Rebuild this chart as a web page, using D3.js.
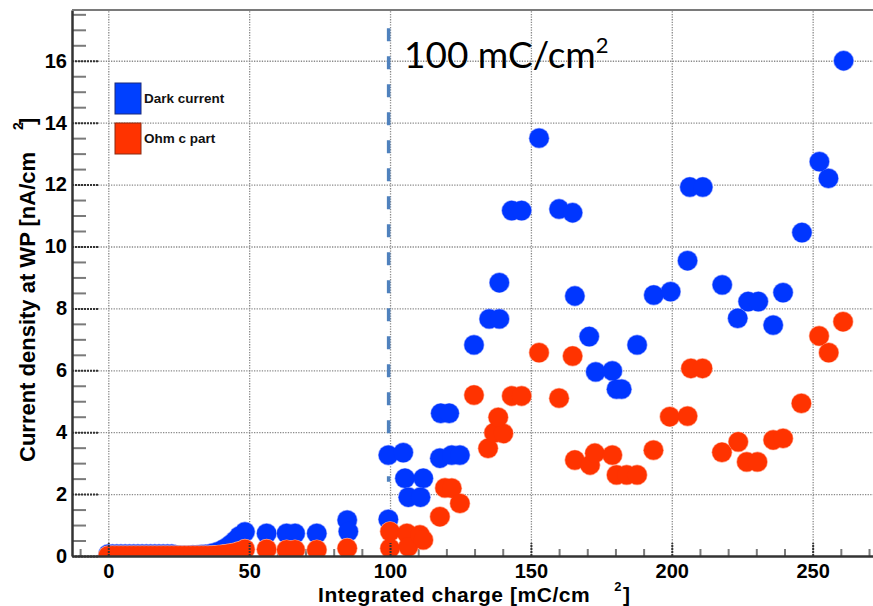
<!DOCTYPE html>
<html>
<head>
<meta charset="utf-8">
<script src="https://cdn.jsdelivr.net/npm/d3@7"></script>
<style>
  body { margin: 0; background: #fff; }
  svg { display: block; font-family: "Liberation Sans", Arial, sans-serif; }
</style>
</head>
<body>
<div class="chart"></div>
<script>
"use strict";

// dark current points (integrated charge, current density)
var darkX = [0, 1.5, 3, 4.5, 6, 7.5, 9, 10.5, 12, 13.5, 15, 16.5, 18, 19.5, 21, 22.5, 24, 25.5, 27, 28.5, 30, 31.5, 33, 34.5, 36,
             37.5, 39, 40.5, 42, 43.5, 45, 46.5, 48.5,
             56.2, 63.3, 66.3, 74, 84.8, 85.2,
             99.4, 99.4, 104.7, 105.3, 106.5, 110.8, 111.8, 117.7, 118, 121, 121.9, 124.8,
             129.8, 135.2, 138.8, 138.8, 143.2, 146.7, 152.9, 160, 164.8, 165.6, 170.7, 173, 178.9,
             180.4, 182.2, 187.7, 193.6, 199.6, 205.6, 206.4, 211, 217.9, 223.4, 227.1, 230.7,
             236, 239.5, 246.2, 252.4, 255.6, 261];
var darkY = [0.06, 0.06, 0.06, 0.06, 0.06, 0.06, 0.06, 0.06, 0.06, 0.06, 0.06, 0.06, 0.06, 0.06, 0.06, 0.06, 0.03, 0.02, 0.02, 0.02, 0.03, 0.03, 0.04, 0.05, 0.07,
             0.1, 0.14, 0.2, 0.28, 0.38, 0.5, 0.64, 0.78,
             0.73, 0.73, 0.73, 0.73, 1.16, 0.79,
             3.26, 1.18, 3.34, 2.51, 1.9, 1.9, 2.51, 3.16, 4.61, 4.61, 3.26, 3.26,
             6.82, 7.66, 7.66, 8.83, 11.16, 11.16, 13.5, 11.21, 11.09, 8.4, 7.09, 5.95, 5.98,
             5.39, 5.39, 6.82, 8.43, 8.54, 9.54, 11.92, 11.92, 8.76, 7.68, 8.22, 8.22,
             7.46, 8.51, 10.45, 12.74, 12.2, 16];

// ohmic part points
var ohmX = [0, 1.5, 3, 4.5, 6, 7.5, 9, 10.5, 12, 13.5, 15, 16.5, 18, 19.5, 21, 22.5, 24, 25.5, 27, 28.5, 30, 31.5, 33, 34.5, 36,
            37.5, 39, 40.5, 42, 43.5, 45, 46.5, 48.5,
            56.2, 63.3, 66.3, 74, 84.8,
            100, 100, 106, 106.5, 110.6, 111.8, 117.7, 119.5, 121.9, 124.8,
            129.8, 134.8, 136.9, 140.2, 138.4, 143.2, 146.7, 152.9, 160, 164.8, 165.6, 171, 172.7,
            178.9, 180.4, 184, 187.7, 193.5, 199.3, 205.6, 206.8, 210.9, 217.8, 223.6, 226.6,
            230.4, 236, 239.5, 246, 252.3, 255.7, 260.8];
var ohmY = [0.01, 0.01, 0.01, 0.01, 0.01, 0.01, 0.01, 0.01, 0.01, 0.01, 0.01, 0.01, 0.01, 0.01, 0.01, 0.01, 0.01, 0.01, 0.01, 0.01, 0.01, 0.01, 0.01, 0.01, 0.01,
            0.02, 0.03, 0.04, 0.06, 0.08, 0.11, 0.15, 0.22,
            0.22, 0.2, 0.2, 0.2, 0.25,
            0.79, 0.25, 0.73, 0.3, 0.68, 0.52, 1.27, 2.2, 2.19, 1.7,
            5.2, 3.48, 3.98, 3.96, 4.48, 5.17, 5.17, 6.57, 5.1, 6.46, 3.1, 2.94, 3.32,
            3.26, 2.62, 2.62, 2.62, 3.42, 4.5, 4.52, 6.06, 6.06, 3.35, 3.69, 3.04,
            3.04, 3.75, 3.8, 4.93, 7.11, 6.57, 7.57];

var xMajor = [0, 50, 100, 150, 200, 250];
var yMajor = [0, 2, 4, 6, 8, 10, 12, 14, 16];
var legendLabels = ["Dark current", "Ohm c part"];
var markerCharge = 99.5;      // dashed line position
var markerSpan = [2.4, 17.05];

var width = 873, height = 606;

var svg = d3.select(".chart").append("svg")
    .attr("width", width)
    .attr("height", height);

var x = d3.scaleLinear().domain([-12.88, 273.9]).range([72, 880]);
var y = d3.scaleLinear().domain([0, 17.64]).range([556, 10]);

var xMinor = d3.range(-10, 271, 10).filter(function(d){ return d % 50 !== 0; });
var yMinor = d3.range(0.5, 17.6, 0.5).filter(function(d){ return d % 2 !== 0; });

svg.append("defs").append("clipPath").attr("id", "plot")
  .append("rect")
    .attr("x", x.range()[0]).attr("y", y.range()[1])
    .attr("width", x.range()[1] - x.range()[0])
    .attr("height", y.range()[0] - y.range()[1]);

// grid
svg.append("g")
    .attr("transform", "translate(0," + y(0) + ")")
    .call(d3.axisBottom(x).tickValues(xMajor).tickSize(-(y.range()[0] - y.range()[1])).tickFormat(""))
    .call(function(g){ g.select(".domain").remove(); })
    .selectAll("line")
      .attr("stroke", "#8a8a8a")
      .attr("stroke-width", 1.3)
      .attr("stroke-dasharray", "1.3,1.3");

svg.append("g")
    .attr("transform", "translate(" + x.range()[0] + ",0)")
    .call(d3.axisLeft(y).tickValues(yMajor.slice(1)).tickSize(-(x.range()[1] - x.range()[0])).tickFormat(""))
    .call(function(g){ g.select(".domain").remove(); })
    .selectAll("line")
      .attr("stroke", "#8a8a8a")
      .attr("stroke-width", 1.3)
      .attr("stroke-dasharray", "1.3,1.3");

// minor ticks
svg.append("g")
    .attr("transform", "translate(0," + y(0) + ")")
    .call(d3.axisBottom(x).tickValues(xMinor).tickSize(-7).tickFormat(""))
    .call(function(g){ g.select(".domain").remove(); })
    .selectAll("line").attr("stroke", "#7a7a7a").attr("stroke-width", 2);

svg.append("g")
    .attr("transform", "translate(" + x.range()[0] + ",0)")
    .call(d3.axisLeft(y).tickValues(yMinor).tickSize(-14).tickFormat(""))
    .call(function(g){ g.select(".domain").remove(); })
    .selectAll("line").attr("stroke", "#7a7a7a").attr("stroke-width", 2);

// dashed 100 mC/cm2 line
svg.append("line")
    .attr("x1", x(markerCharge)).attr("x2", x(markerCharge))
    .attr("y1", y(markerSpan[1])).attr("y2", y(markerSpan[0]))
    .attr("stroke", "#4f81bd")
    .attr("stroke-width", 3.5)
    .attr("stroke-dasharray", "13,15");

// points: soft halo under each series, then the fill
var pts = svg.append("g").attr("clip-path", "url(#plot)");

function drawSeries(xs, ys, fill, halo) {
  var g = pts.append("g");
  g.append("g").selectAll("circle")
      .data(xs).enter().append("circle")
        .attr("cx", function(d){ return x(d); })
        .attr("cy", function(d, i){ return y(ys[i]); })
        .attr("r", 10.4)
        .attr("fill", halo);
  g.append("g").selectAll("circle")
      .data(xs).enter().append("circle")
        .attr("cx", function(d){ return x(d); })
        .attr("cy", function(d, i){ return y(ys[i]); })
        .attr("r", 9.7)
        .attr("fill", fill);
}
drawSeries(darkX, darkY, "#0036ff", "#8fa3ff");
drawSeries(ohmX, ohmY, "#ff3300", "#ffa58c");

// major ticks + labels
var gx = svg.append("g")
    .attr("transform", "translate(0," + y(0) + ")")
    .call(d3.axisBottom(x).tickValues(xMajor).tickSize(-13).tickSizeOuter(0).tickPadding(7.5).tickFormat(d3.format("d")));
gx.select(".domain").attr("stroke", "#333").attr("stroke-width", 2.5);
gx.selectAll(".tick line").attr("stroke", "#333").attr("stroke-width", 2).attr("stroke-dasharray", "2,1");
gx.selectAll("text")
    .attr("fill", "#000")
    .style("font-size", "20px")
    .style("font-weight", "bold");

var gy = svg.append("g")
    .attr("transform", "translate(" + x.range()[0] + ",0)")
    .call(d3.axisLeft(y).tickValues(yMajor).tickSize(-27).tickSizeOuter(0).tickPadding(5).tickFormat(d3.format("d")));
gy.select(".domain").attr("stroke", "#333").attr("stroke-width", 2.5);
gy.selectAll(".tick line").attr("stroke", "#333").attr("stroke-width", 2).attr("stroke-dasharray", "2,1");
gy.selectAll("text")
    .attr("fill", "#000")
    .style("font-size", "20px")
    .style("font-weight", "bold");

// top frame
svg.append("line")
    .attr("x1", x.range()[0]).attr("x2", x.range()[1])
    .attr("y1", y.range()[1]).attr("y2", y.range()[1])
    .attr("stroke", "#7a7a7a")
    .attr("stroke-width", 2);

// axis titles
var xt = svg.append("text")
    .attr("x", 318).attr("y", 601.5)
    .style("font-size", "21px").style("font-weight", "bold")
    .style("letter-spacing", "0.55px");
xt.append("tspan").text("Integrated charge [mC/cm");
xt.append("tspan").attr("dx", 24).attr("dy", -11).style("font-size", "13px").text("2");
xt.append("tspan").attr("dx", 1).attr("dy", 11).text("]");

var yt = svg.append("text")
    .attr("transform", "translate(35,462) rotate(-90)")
    .style("font-size", "22px").style("font-weight", "bold");
yt.append("tspan").text("Current density at WP [nA/cm");
yt.append("tspan").attr("dx", 22).attr("dy", -12).style("font-size", "14px").text("2");
yt.append("tspan").attr("dx", -3).attr("dy", 12).text("]");

// annotation
var ann = svg.append("text")
    .attr("x", 404).attr("y", 68)
    .style("font-family", "Lato, 'Liberation Sans', sans-serif")
    .style("font-size", "37px");
ann.append("tspan").text("100 mC/cm");
ann.append("tspan").attr("dy", -15).style("font-size", "22px").text("2");

// legend
var legend = svg.append("g").attr("transform", "translate(115,83)");
var legendFill = ["#0040ff", "#ff3300"];
var legendStroke = ["#1a2a7a", "#8a2a10"];
legend.selectAll("rect")
    .data(legendLabels).enter().append("rect")
      .attr("x", 0)
      .attr("y", function(d, i){ return i * 40; })
      .attr("width", 26).attr("height", 31)
      .attr("fill", function(d, i){ return legendFill[i]; })
      .attr("stroke", function(d, i){ return legendStroke[i]; })
      .attr("stroke-width", 1);
legend.selectAll("text")
    .data(legendLabels).enter().append("text")
      .attr("x", 29)
      .attr("y", function(d, i){ return i * 40 + 20; })
      .style("font-size", "13.5px")
      .style("font-weight", "bold")
      .attr("fill", "#111")
      .text(function(d){ return d; });
</script>
</body>
</html>
